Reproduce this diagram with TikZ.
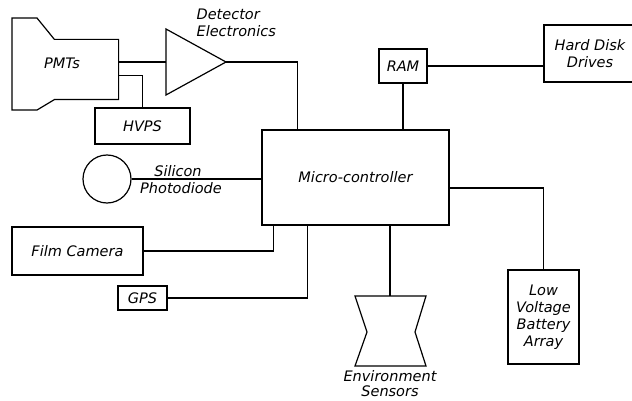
\documentclass[tikz,border=0pt]{standalone}
\usepackage{fontspec}
\setmainfont{DejaVu Sans}
\begin{document}
\begin{tikzpicture}[x=1pt, y=-1pt, line width=1.2pt,
    font=\fontsize{14.5}{17}\selectfont\itshape,
    blk/.style={draw, rectangle, inner sep=0pt, align=center},
    lbl/.style={inner sep=0pt, align=center}]
  \useasboundingbox (0,0) rectangle (632,401);
  \clip (0,0) rectangle (632,401);

  % PMTs and detector electronics
  \node[rectangle, inner sep=0pt, minimum width=63pt, minimum height=59pt] (pmt) at (86.5,69.5) {};
  \draw (pmt.north west) -- (pmt.north east) -- (pmt.south east) -- (pmt.south west)
        -- (37,110) -- (12,110) -- (12,18) -- (37,18) -- cycle;
  \node[lbl] (pmtlbl) at (62,63) {PMTs};
  \draw (166,29) -- (226,62) coordinate (det) -- (166,95) -- cycle;
  \coordinate (detin) at (166,62);
  \node[lbl, anchor=west, align=left] (detlbl) at (196,23) {Detector\\Electronics};
  \node[blk, minimum width=95pt, minimum height=36pt] (hvps) at (142.5,126) {HVPS};

  % centre
  \node[blk, minimum width=187pt, minimum height=95pt] (mc) at (355.5,177.5) {Micro-controller};
  \node[blk, minimum width=48pt, minimum height=34pt] (ram) at (403,66) {RAM};
  \node[blk, minimum width=92pt, minimum height=57pt] (hdd) at (590,53.5) {Hard Disk\\Drives};

  % left side
  \node[draw, circle, minimum size=48pt, inner sep=0pt] (sd) at (107,179) {};
  \node[lbl] (sdlbl1) at (178,171) {Silicon};
  \node[lbl] (sdlbl2) at (181,188) {Photodiode};
  \node[blk, minimum width=131pt, minimum height=48pt] (cam) at (77.5,251) {Film Camera};
  \node[blk, minimum width=49pt, minimum height=24pt] (gps) at (142.5,298) {GPS};

  % bottom and right
  \draw (355,296) -- (426,296) -- (415,332) -- (426,366) -- (355,366) -- (367,332) -- cycle;
  \coordinate (env) at (390,296);
  \node[lbl, font=\fontsize{14.5}{15}\selectfont\itshape] (envlbl) at (390,383.5) {Environment\\Sensors};
  \node[blk, minimum width=71pt, minimum height=94pt] (bat) at (543.5,317) {Low\\Voltage\\Battery\\Array};

  % connections
  \draw (detin -| pmt.east) -- (detin);
  \draw ([yshift=-6pt]pmt.east) -| (hvps.north);
  \draw (det) -| ([xshift=36pt]mc.north west);
  \draw (sd.east) -- (sd.east -| mc.west);
  \draw (ram.south) -- (ram.south |- mc.north);
  \draw (ram.east) -- (ram.east -| hdd.west);
  \draw ([yshift=-10.5pt]mc.east) -| (bat.north);
  \draw (cam.east) -| ([xshift=12pt]mc.south west);
  \draw (gps.east) -| ([xshift=46pt]mc.south west);
  \draw (env) -- (env |- mc.south);
\end{tikzpicture}
\end{document}
